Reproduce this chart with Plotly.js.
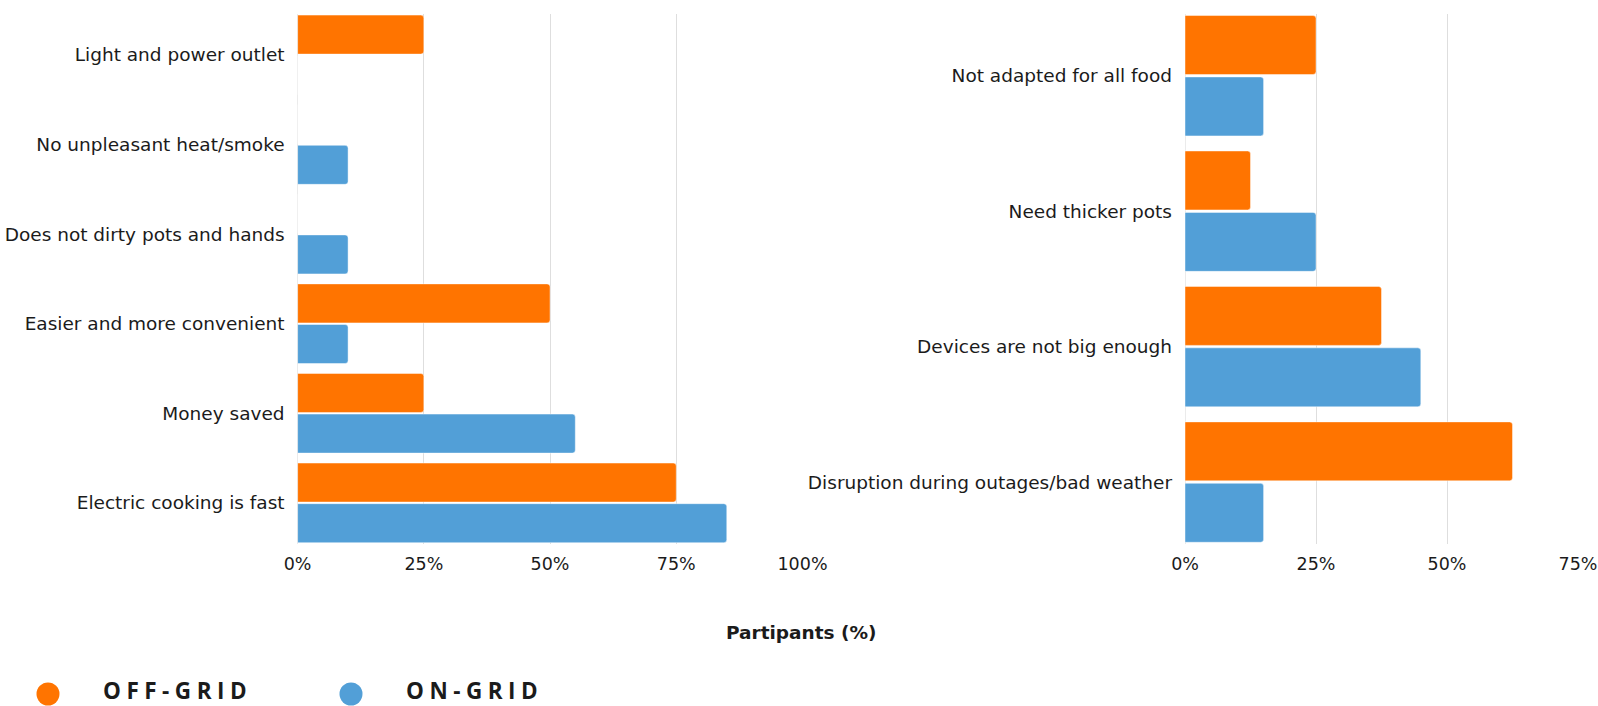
<!DOCTYPE html>
<html>
<head>
<meta charset="utf-8">
<script src="https://cdn.plot.ly/plotly-3.0.1.min.js"></script>
<style>
  html, body { margin: 0; padding: 0; background: #ffffff; }
  #chart { width: 1598px; height: 706px; }
</style>
</head>
<body>
<div id="chart"></div>
<script>
// ---- Data (categories listed bottom-to-top) ----
const benefitCategories = [
  "Electric cooking is fast",
  "Money saved",
  "Easier and more convenient",
  "Does not dirty pots and hands",
  "No unpleasant heat/smoke",
  "Light and power outlet"
];
const benefitOffGrid = [75, 25, 50, 0, 0, 25];
const benefitOnGrid  = [85, 55, 10, 10, 10, 0];

const barrierCategories = [
  "Disruption during outages/bad weather",
  "Devices are not big enough",
  "Need thicker pots",
  "Not adapted for all food"
];
const barrierOffGrid = [62.5, 37.5, 12.5, 25];
const barrierOnGrid  = [15, 45, 25, 15];

const seriesNames = ["ON-GRID", "OFF-GRID"];
const leftTickVals = [0, 25, 50, 75, 100];
const leftTickText = ["0%", "25%", "50%", "75%", "100%"];
const rightTickVals = [0, 25, 50, 75];
const rightTickText = ["0%", "25%", "50%", "75%"];
const axisTitle = "Partipants (%)";

// ---- Styles ----
const ORANGE = "#ff7400";
const BLUE = "#529fd7";
const FONT = "DejaVu Sans, sans-serif";
const LEGEND_FONT = "Open Sans, sans-serif";
const TEXT = "#1b1b1b";
const GRID = "#dedede";
const W = 1598, H = 706;
const BARGAP = 0.093;

function barTrace(name, x, y, color, xa, ya) {
  return {
    type: "bar", orientation: "h", name: name, x: x, y: y,
    xaxis: xa, yaxis: ya,
    marker: { color: color, cornerradius: 3, line: { color: "rgba(255,255,255,0.45)", width: 1 } },
    hoverinfo: "x+y+name", showlegend: false
  };
}

const data = [
  barTrace(seriesNames[0], benefitOnGrid, benefitCategories, BLUE, "x", "y"),
  barTrace(seriesNames[1], benefitOffGrid, benefitCategories, ORANGE, "x", "y"),
  barTrace(seriesNames[0], barrierOnGrid, barrierCategories, BLUE, "x2", "y2"),
  barTrace(seriesNames[1], barrierOffGrid, barrierCategories, ORANGE, "x2", "y2")
];

const yTop = 1 - 14.3 / H;
const yBot = 1 - 543.5 / H;

const xCommon = {
  showgrid: true, gridcolor: GRID, gridwidth: 1,
  zeroline: true, zerolinecolor: "#ebebeb", zerolinewidth: 1,
  showline: false, ticks: "", ticklabelstandoff: 8,
  tickfont: { family: FONT, size: 17.5, color: TEXT },
  fixedrange: true
};
const yCommon = {
  type: "category", showgrid: false, zeroline: false, showline: false,
  ticks: "", ticklabelstandoff: 12,
  tickfont: { family: FONT, size: 18.5, color: TEXT },
  fixedrange: true
};

const layout = {
  width: W, height: H,
  margin: { l: 0, r: 0, t: 0, b: 0 },
  paper_bgcolor: "#ffffff", plot_bgcolor: "#ffffff",
  barmode: "group", bargap: BARGAP, bargroupgap: 0.04,
  showlegend: false,
  font: { family: FONT, color: TEXT },
  xaxis: Object.assign({}, xCommon, {
    domain: [297.6 / W, 802.5 / W], range: [0, 100],
    tickvals: leftTickVals, ticktext: leftTickText, anchor: "y"
  }),
  yaxis: Object.assign({}, yCommon, {
    domain: [yBot, yTop], anchor: "x",
    range: [-0.5 + BARGAP / 2, benefitCategories.length - 0.5 - BARGAP / 2]
  }),
  xaxis2: Object.assign({}, xCommon, {
    domain: [1185 / W, 1578 / W], range: [0, 75],
    tickvals: rightTickVals, ticktext: rightTickText, anchor: "y2"
  }),
  yaxis2: Object.assign({}, yCommon, {
    domain: [yBot, yTop], anchor: "x2",
    range: [-0.5 + BARGAP / 2, barrierCategories.length - 0.5 - BARGAP / 2]
  }),
  shapes: [
    { type: "circle", xref: "paper", yref: "paper", xsizemode: "pixel", ysizemode: "pixel",
      xanchor: 48 / W, yanchor: 1 - 694 / H, x0: -11.5, x1: 11.5, y0: -11.5, y1: 11.5,
      fillcolor: ORANGE, line: { width: 0 } },
    { type: "circle", xref: "paper", yref: "paper", xsizemode: "pixel", ysizemode: "pixel",
      xanchor: 351 / W, yanchor: 1 - 694 / H, x0: -11.5, x1: 11.5, y0: -11.5, y1: 11.5,
      fillcolor: BLUE, line: { width: 0 } }
  ],
  annotations: [
    { text: "<b>" + axisTitle + "</b>", xref: "paper", yref: "paper",
      x: 802 / W, y: 1 - 632 / H, xanchor: "center", yanchor: "middle", showarrow: false,
      font: { family: FONT, size: 18.5, color: TEXT } },
    { text: '<b><span style="letter-spacing:5.5px">' + seriesNames[1] + '</span></b>',
      xref: "paper", yref: "paper", x: 102 / W, y: 1 - 690.5 / H, borderpad: 0,
      xanchor: "left", yanchor: "middle", showarrow: false,
      font: { family: LEGEND_FONT, size: 22.5, color: TEXT } },
    { text: '<b><span style="letter-spacing:5.5px">' + seriesNames[0] + '</span></b>',
      xref: "paper", yref: "paper", x: 405 / W, y: 1 - 690.5 / H, borderpad: 0,
      xanchor: "left", yanchor: "middle", showarrow: false,
      font: { family: LEGEND_FONT, size: 22.5, color: TEXT } }
  ]
};

Plotly.newPlot("chart", data, layout, { displayModeBar: false, staticPlot: false });
</script>
</body>
</html>
